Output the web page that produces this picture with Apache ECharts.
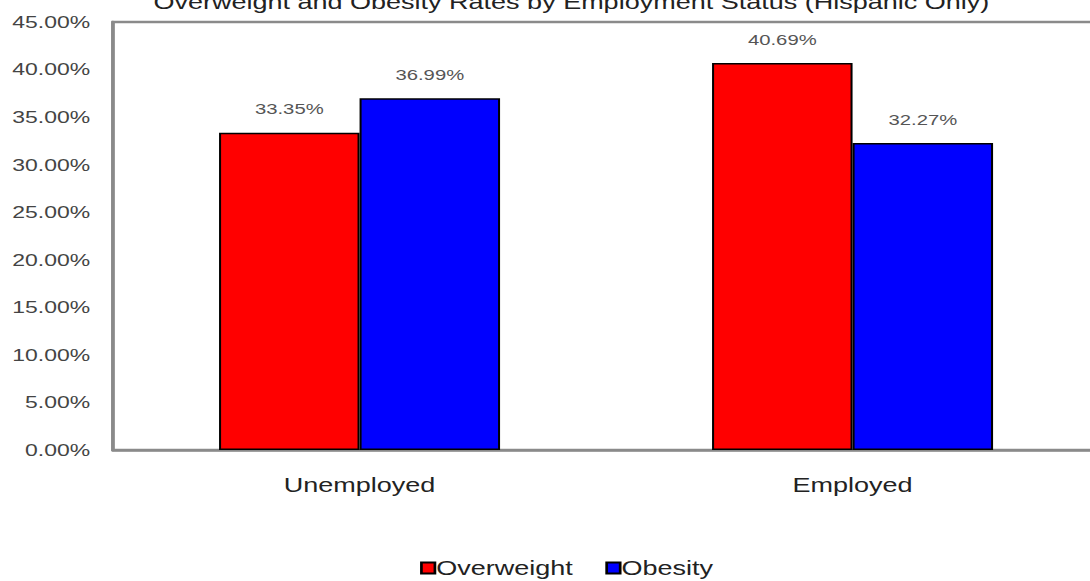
<!DOCTYPE html>
<html><head><meta charset="utf-8">
<script src="https://cdn.jsdelivr.net/npm/echarts@6/dist/echarts.min.js"></script>
<style>
html,body{margin:0;padding:0;background:#fff;overflow:hidden}
#wrap{width:1090px;height:581px;overflow:hidden;position:relative}
#c{width:822px;height:581px;transform:scaleX(1.3507);transform-origin:0 0}
</style>
</head><body><div id="wrap"><div id="c"></div></div>
<script>
const categories = ['Unemployed', 'Employed'];
const overweight = [33.35, 40.69];
const obesity = [36.99, 32.27];
const titleText = 'Overweight and Obesity Rates by Employment Status (Hispanic Only)';

const chart = echarts.init(document.getElementById('c'), null, {renderer: 'svg'});
const font = 'Liberation Sans, Arial, sans-serif';
const lbl = {show: true, position: 'top', distance: 16, color: '#555', fontSize: 15, fontFamily: font,
  formatter: p => p.value.toFixed(2) + '%'};
chart.setOption({
  animation: false,
  backgroundColor: '#fff',
  title: {text: titleText, left: 418, textAlign: 'center', top: -13,
    textStyle: {fontSize: 20, fontWeight: 'normal', color: '#222', fontFamily: font}},
  grid: {left: 83.7, top: 22, right: 8.3, bottom: 131, show: true, borderColor: '#8a8a8a', borderWidth: 2.5, backgroundColor: 'transparent'},
  legend: {bottom: -2, left: 306, itemWidth: 10, itemHeight: 11, itemGap: 24, icon: 'rect',
    textStyle: {fontSize: 20, color: '#222', fontFamily: font, padding: [0,0,0,-4]},
    data: ['Overweight', 'Obesity']},
  xAxis: {type: 'category', data: categories,
    axisLine: {lineStyle: {color: '#8a8a8a', width: 2.5}}, axisTick: {show: false},
    axisLabel: {fontSize: 20, color: '#222', fontFamily: font, margin: 25}},
  yAxis: {type: 'value', min: 0, max: 45, interval: 5,
    axisLine: {show: true, lineStyle: {color: '#8a8a8a', width: 2.5}}, axisTick: {show: false},
    splitLine: {show: false},
    axisLabel: {fontSize: 17, color: '#444', fontFamily: font, margin: 17, formatter: v => v.toFixed(2) + '%'}},
  series: [
    {name: 'Overweight', type: 'bar', data: overweight, barGap: '0%', barCategoryGap: '43%',
      itemStyle: {color: '#ff0000', borderColor: '#000', borderWidth: 1.5}, label: lbl},
    {name: 'Obesity', type: 'bar', data: obesity,
      itemStyle: {color: '#0000ff', borderColor: '#000', borderWidth: 1.5}, label: lbl}
  ]
});
</script></body></html>
